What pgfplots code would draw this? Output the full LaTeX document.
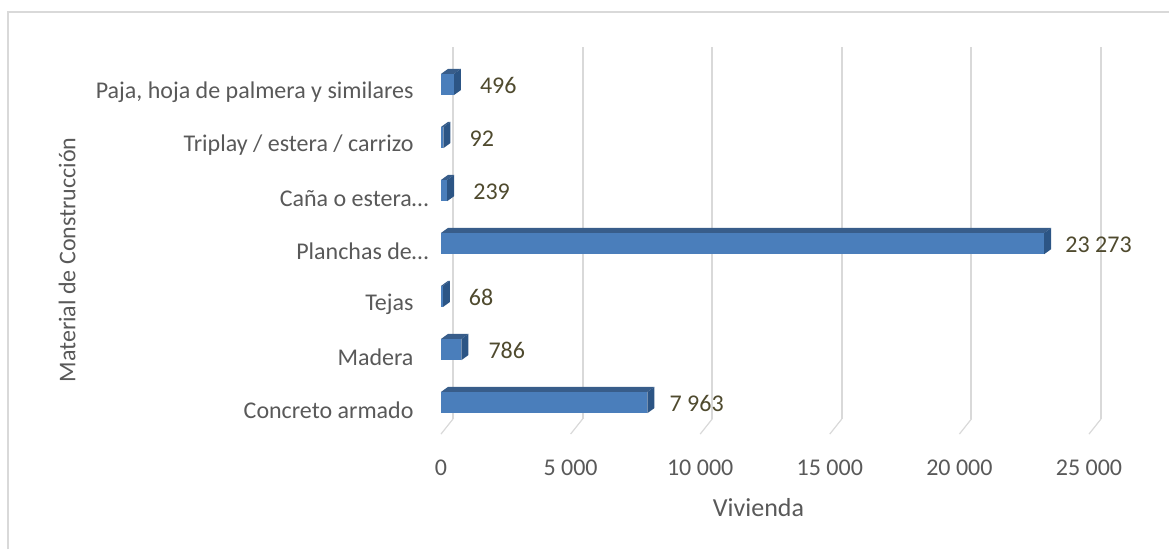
\documentclass[border=0pt]{standalone}
\usepackage{fontspec}
\setmainfont{Carlito}
\usepackage{pgfplots}
\pgfplotsset{compat=1.18}
\definecolor{txt}{HTML}{595959}
\definecolor{lab}{HTML}{4F4A2E}
\definecolor{front}{HTML}{4A7EBB}
\definecolor{topf}{HTML}{385D8A}
\definecolor{sidef}{HTML}{2C5585}
\definecolor{gridc}{HTML}{D9D9D9}
% value, value + depth, category, label, label gap
\newcommand{\barbox}[5]{%
  \pgfmathsetmacro{\yb}{#3-0.2}\pgfmathsetmacro{\yt}{#3+0.2}
  \pgfmathsetmacro{\ye}{\yt+0.095}\pgfmathsetmacro{\yf}{\yb+0.095}
  \addplot[fill=topf,draw=none] coordinates {(0,\yt) (270,\ye) (#2,\ye) (#1,\yt)} --cycle;
  \addplot[fill=sidef,draw=none] coordinates {(#1,\yb) (#1,\yt) (#2,\ye) (#2,\yf)} --cycle;
  \addplot[fill=front,draw=none] coordinates {(0,\yb) (0,\yt) (#1,\yt) (#1,\yb)} --cycle;
  \addplot[mark=none,draw=none,nodes near coords={#4},
    every node near coord/.append style={anchor=west,inner sep=0pt,font=\fontsize{24}{28}\selectfont,text=lab,xshift=#5pt,yshift=-1pt}]
    coordinates {(#1,#3)};
}
\newcommand{\gridl}[2]{%
  \addplot[gridc,line width=1.2pt] coordinates {(#1,-0.595) (#2,-0.31)};
  \addplot[gridc,line width=2pt] coordinates {(#2,-0.31) (#2,6.71)};
}
\begin{document}
\begin{tikzpicture}[x=1pt,y=1pt]
\useasboundingbox (0,0) rectangle (1169,549);
\draw[gridc,line width=1.5pt] (8,0) -- (8,537) -- (1169,537);
\begin{axis}[
  at={(441pt,113.6pt)},anchor=south west,
  scale only axis,width=648pt,height=371pt,
  xmin=0,xmax=25000,ymin=-0.62,ymax=6.38,
  clip=false,axis line style={draw=none},tick style={draw=none},
  scaled x ticks=false,
  xtick={0,5000,10000,15000,20000,25000},
  xticklabels={0,5 000,10 000,15 000,20 000,25 000},
  ytick={0,1,2,3,4,5,6},
  yticklabels={Concreto armado,Madera,Tejas,Planchas de…\kern-15pt,Caña o estera…\kern-15pt,Triplay / estera / carrizo,{Paja, hoja de palmera y similares}},
  tick label style={font=\fontsize{24}{28}\selectfont,text=txt},
  xticklabel style={yshift=-21pt},
  yticklabel style={xshift=-24pt,yshift=-8pt},
  xlabel={Vivienda},ylabel={Material de Construcción},
  xlabel style={font=\fontsize{26}{30}\selectfont,text=txt,at={(axis description cs:0.49,0)},anchor=center,yshift=-72pt},
  ylabel style={font=\fontsize{24}{28}\selectfont,text=txt,at={(axis description cs:-0.577,0.473)},anchor=center},
]
\gridl{0}{463}\gridl{5000}{5463}\gridl{10000}{10463}\gridl{15000}{15463}\gridl{20000}{20463}\gridl{25000}{25463}
\barbox{7963}{8233}{0}{7 963}{22}
\barbox{786}{1056}{1}{786}{27}
\barbox{68}{338}{2}{68}{26}
\barbox{23273}{23543}{3}{23 273}{21}
\barbox{239}{509}{4}{239}{26}
\barbox{92}{362}{5}{92}{26}
\barbox{496}{766}{6}{496}{26}
\end{axis}
\end{tikzpicture}
\end{document}
